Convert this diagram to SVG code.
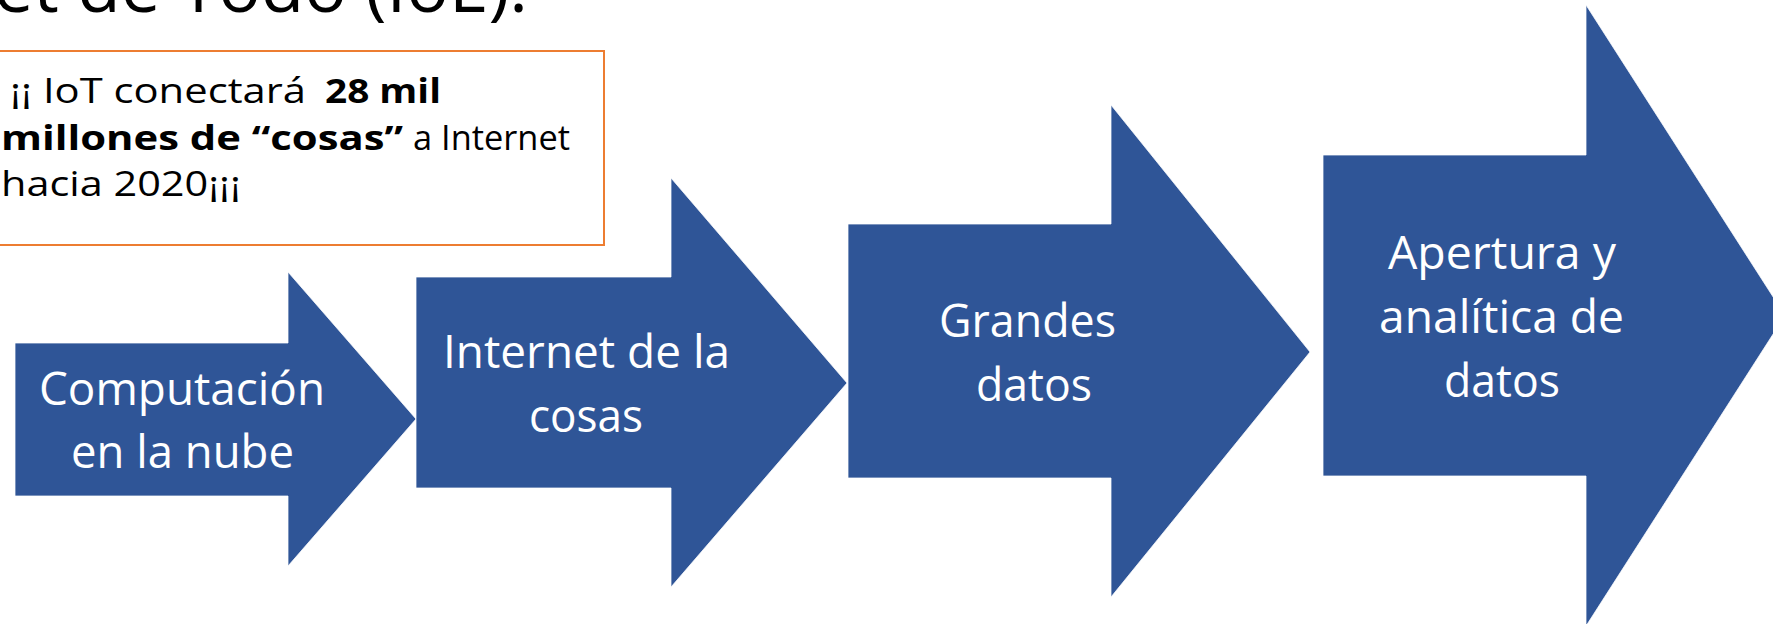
<svg xmlns="http://www.w3.org/2000/svg" width="1773" height="624" viewBox="0 0 1773 624">
  <style>
    .arrow { fill: #2F5597; stroke: #ffffff; stroke-width: 0.75; }
    .lbl { font-family: "Open Sans", "Liberation Sans", sans-serif; font-size: 45px; fill: #ffffff; }
    .box { fill: #ffffff; stroke: #ED7D31; stroke-width: 2; }
    .bt { font-family: "Open Sans", "Liberation Sans", sans-serif; font-size: 34px; fill: #000000; }
    .b { font-weight: bold; }
    .title { font-family: "Open Sans", "Liberation Sans", sans-serif; font-size: 71px; fill: #000000; }
  </style>
  <rect width="1773" height="624" fill="#ffffff"/>

  <g id="title">
    <text class="title" x="528" y="12" text-anchor="end">Internet de Todo (IoE):</text>
  </g>

  <g id="note">
    <rect class="box" x="-10" y="51" width="614" height="194"/>
    <text class="bt" x="10" y="103" textLength="296" lengthAdjust="spacingAndGlyphs">¡¡ IoT conectará</text>
    <text class="bt b" x="325" y="103" textLength="116" lengthAdjust="spacingAndGlyphs">28 mil</text>
    <text class="bt b" x="1" y="150" textLength="402" lengthAdjust="spacingAndGlyphs">millones de “cosas”</text>
    <text class="bt" x="413" y="150" textLength="157" lengthAdjust="spacingAndGlyphs">a Internet</text>
    <text class="bt" x="1" y="196" textLength="240" lengthAdjust="spacingAndGlyphs">hacia 2020¡¡¡</text>
  </g>

  <g id="connectors"></g>

  <g id="step1">
    <polygon class="arrow" points="15,343 288,343 288,272 416,419 288,566 288,496 15,496"/>
    <text class="lbl" x="39" y="405" textLength="286" lengthAdjust="spacingAndGlyphs">Computación</text>
    <text class="lbl" x="71" y="468" textLength="223" lengthAdjust="spacingAndGlyphs">en la nube</text>
  </g>

  <g id="step2">
    <polygon class="arrow" points="416,277 671,277 671,178 847,383 671,587 671,488 416,488"/>
    <text class="lbl" x="443" y="368" textLength="287" lengthAdjust="spacingAndGlyphs">Internet de la</text>
    <text class="lbl" x="529" y="432" textLength="114" lengthAdjust="spacingAndGlyphs">cosas</text>
  </g>

  <g id="step3">
    <polygon class="arrow" points="848,224 1111,224 1111,105 1310,352 1111,597 1111,478 848,478"/>
    <text class="lbl" x="939" y="337" textLength="177" lengthAdjust="spacingAndGlyphs">Grandes</text>
    <text class="lbl" x="976" y="401" textLength="116" lengthAdjust="spacingAndGlyphs">datos</text>
  </g>

  <g id="step4">
    <polygon class="arrow" points="1323,155 1586,155 1586,5 1785,315.5 1586,626 1586,476 1323,476"/>
    <text class="lbl" x="1388" y="269" textLength="228" lengthAdjust="spacingAndGlyphs">Apertura y</text>
    <text class="lbl" x="1379" y="333" textLength="245" lengthAdjust="spacingAndGlyphs">analítica de</text>
    <text class="lbl" x="1444" y="397" textLength="116" lengthAdjust="spacingAndGlyphs">datos</text>
  </g>
</svg>
